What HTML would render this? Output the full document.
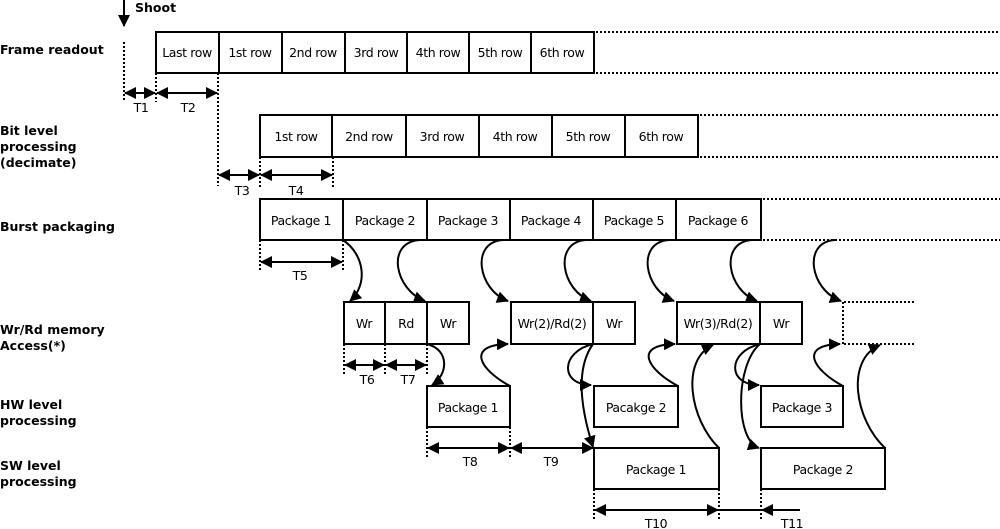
<!DOCTYPE html>
<html><head><meta charset="utf-8"><style>
html,body{margin:0;padding:0;background:#fff;}
svg{display:block;}
.l{font-family:"DejaVu Sans","Liberation Sans",sans-serif;font-weight:bold;font-size:12.5px;}
.t{font-family:"DejaVu Sans","Liberation Sans",sans-serif;font-size:12.5px;letter-spacing:-0.4px;}
.b{fill:#fff;stroke:#000;stroke-width:2;}
.d{stroke:#000;stroke-width:2;stroke-dasharray:2,2;fill:none;}
.a{stroke:#000;stroke-width:2;fill:none;}
</style></head><body>
<svg width="1000" height="529" viewBox="0 0 1000 529" xmlns="http://www.w3.org/2000/svg">
<defs>
<marker id="h" markerWidth="12" markerHeight="12" refX="11" refY="6" orient="auto" markerUnits="userSpaceOnUse"><path d="M0,0 L12,6 L0,12 z" fill="#000"/></marker>
<marker id="s" markerWidth="12" markerHeight="12" refX="1" refY="6" orient="auto" markerUnits="userSpaceOnUse"><path d="M12,0 L0,6 L12,12 z" fill="#000"/></marker>
</defs>
<g class="l">
<text x="0" y="54">Frame readout</text>
<text x="0" y="135">Bit level</text>
<text x="0" y="151">processing</text>
<text x="0" y="167">(decimate)</text>
<text x="0" y="231">Burst packaging</text>
<text x="0" y="334">Wr/Rd memory</text>
<text x="0" y="350">Access(*)</text>
<text x="0" y="409">HW level</text>
<text x="0" y="425">processing</text>
<text x="0" y="470">SW level</text>
<text x="0" y="486">processing</text>
<text x="135" y="12">Shoot</text>
</g>
<line class="a" x1="124" y1="0" x2="124" y2="26" marker-end="url(#h)"/>
<line class="d" x1="124" y1="42" x2="124" y2="102"/>
<g class="t" text-anchor="middle">
<rect class="b" x="156" y="32" width="63" height="41"/><text x="187" y="57">Last row</text>
<rect class="b" x="219" y="32" width="63" height="41"/><text x="250" y="57">1st row</text>
<rect class="b" x="282" y="32" width="63" height="41"/><text x="313" y="57">2nd row</text>
<rect class="b" x="345" y="32" width="62" height="41"/><text x="376" y="57">3rd row</text>
<rect class="b" x="407" y="32" width="62" height="41"/><text x="438" y="57">4th row</text>
<rect class="b" x="469" y="32" width="62" height="41"/><text x="500" y="57">5th row</text>
<rect class="b" x="531" y="32" width="63" height="41"/><text x="562" y="57">6th row</text>
</g>
<line class="d" x1="596" y1="32" x2="1000" y2="32"/><line class="d" x1="596" y1="73" x2="1000" y2="73"/>
<line class="d" x1="156" y1="73" x2="156" y2="102"/>
<line class="d" x1="218" y1="73" x2="218" y2="186"/>
<line class="a" x1="125" y1="93" x2="155" y2="93" marker-start="url(#s)" marker-end="url(#h)"/>
<line class="a" x1="157" y1="93" x2="217" y2="93" marker-start="url(#s)" marker-end="url(#h)"/>
<g class="t" text-anchor="middle"><text x="141" y="112">T1</text><text x="188" y="112">T2</text></g>
<g class="t" text-anchor="middle">
<rect class="b" x="260" y="115" width="72" height="42"/><text x="296" y="141">1st row</text>
<rect class="b" x="332" y="115" width="74" height="42"/><text x="369" y="141">2nd row</text>
<rect class="b" x="406" y="115" width="73" height="42"/><text x="442" y="141">3rd row</text>
<rect class="b" x="479" y="115" width="73" height="42"/><text x="515" y="141">4th row</text>
<rect class="b" x="552" y="115" width="73" height="42"/><text x="588" y="141">5th row</text>
<rect class="b" x="625" y="115" width="73" height="42"/><text x="661" y="141">6th row</text>
</g>
<line class="d" x1="700" y1="115" x2="1000" y2="115"/><line class="d" x1="700" y1="157" x2="1000" y2="157"/>
<line class="d" x1="260" y1="157" x2="260" y2="188"/><line class="d" x1="333" y1="157" x2="333" y2="188"/>
<line class="a" x1="219" y1="175" x2="259" y2="175" marker-start="url(#s)" marker-end="url(#h)"/>
<line class="a" x1="261" y1="175" x2="332" y2="175" marker-start="url(#s)" marker-end="url(#h)"/>
<g class="t" text-anchor="middle"><text x="242" y="195">T3</text><text x="296" y="195">T4</text></g>
<g class="t" text-anchor="middle">
<rect class="b" x="260" y="199" width="83" height="41"/><text x="301" y="225">Package 1</text>
<rect class="b" x="343" y="199" width="84" height="41"/><text x="385" y="225">Package 2</text>
<rect class="b" x="427" y="199" width="83" height="41"/><text x="468" y="225">Package 3</text>
<rect class="b" x="510" y="199" width="83" height="41"/><text x="551" y="225">Package 4</text>
<rect class="b" x="593" y="199" width="83" height="41"/><text x="634" y="225">Package 5</text>
<rect class="b" x="676" y="199" width="85" height="41"/><text x="718" y="225">Package 6</text>
</g>
<line class="d" x1="763" y1="199" x2="1000" y2="199"/><line class="d" x1="763" y1="240" x2="1000" y2="240"/>
<line class="d" x1="260" y1="240" x2="260" y2="272"/><line class="d" x1="343" y1="240" x2="343" y2="272"/>
<line class="a" x1="261" y1="262" x2="342" y2="262" marker-start="url(#s)" marker-end="url(#h)"/>
<text class="t" x="300" y="280" text-anchor="middle">T5</text>
<path class="a" d="M343,240 C365,255 368,285 350,301" marker-end="url(#h)"/>
<path class="a" d="M420,240 C385,242 395,290 425,301" marker-end="url(#h)"/>
<path class="a" d="M503,240 C470,242 478,290 508,301" marker-end="url(#h)"/>
<path class="a" d="M586,240 C553,242 561,290 591,301" marker-end="url(#h)"/>
<path class="a" d="M669,240 C636,242 644,290 674,301" marker-end="url(#h)"/>
<path class="a" d="M752,240 C719,242 727,290 757,301" marker-end="url(#h)"/>
<path class="a" d="M835,240 C802,242 810,290 841,301" marker-end="url(#h)"/>
<g class="t" text-anchor="middle">
<rect class="b" x="344" y="302" width="41" height="42"/><text x="364" y="328">Wr</text>
<rect class="b" x="385" y="302" width="42" height="42"/><text x="406" y="328">Rd</text>
<rect class="b" x="427" y="302" width="42" height="42"/><text x="448" y="328">Wr</text>
<rect class="b" x="511" y="302" width="82" height="42"/><text x="552" y="328">Wr(2)/Rd(2)</text>
<rect class="b" x="593" y="302" width="42" height="42"/><text x="614" y="328">Wr</text>
<rect class="b" x="677" y="302" width="83" height="42"/><text x="718" y="328">Wr(3)/Rd(2)</text>
<rect class="b" x="760" y="302" width="42" height="42"/><text x="781" y="328">Wr</text>
</g>
<line class="d" x1="843" y1="302" x2="843" y2="344"/>
<line class="d" x1="844" y1="302" x2="916" y2="302"/><line class="d" x1="844" y1="344" x2="916" y2="344"/>
<line class="d" x1="344" y1="344" x2="344" y2="376"/><line class="d" x1="385" y1="344" x2="385" y2="376"/><line class="d" x1="427" y1="344" x2="427" y2="376"/>
<line class="a" x1="345" y1="365" x2="384" y2="365" marker-start="url(#s)" marker-end="url(#h)"/>
<line class="a" x1="386" y1="365" x2="426" y2="365" marker-start="url(#s)" marker-end="url(#h)"/>
<g class="t" text-anchor="middle"><text x="367" y="384">T6</text><text x="408" y="384">T7</text></g>
<g class="t" text-anchor="middle">
<rect class="b" x="427" y="386" width="83" height="41"/><text x="468" y="412">Package 1</text>
<rect class="b" x="594" y="386" width="84" height="41"/><text x="636" y="412">Pacakge 2</text>
<rect class="b" x="761" y="386" width="82" height="41"/><text x="802" y="412">Package 3</text>
</g>
<path class="a" d="M427,344 C450,350 448,375 432,385" marker-end="url(#h)"/>
<path class="a" d="M510,386 C480,370 465,345 508,344" marker-end="url(#h)"/>
<path class="a" d="M593,344 C560,352 560,385 591,385" marker-end="url(#h)"/>
<path class="a" d="M593,344 C578,365 578,400 593,447" marker-end="url(#h)"/>
<path class="a" d="M678,386 C648,370 632,345 675,344" marker-end="url(#h)"/>
<path class="a" d="M719,448 C690,420 680,360 713,345" marker-end="url(#h)"/>
<path class="a" d="M760,344 C727,352 727,385 759,385" marker-end="url(#h)"/>
<path class="a" d="M760,344 C735,365 735,440 759,448" marker-end="url(#h)"/>
<path class="a" d="M843,386 C813,370 798,345 840,344" marker-end="url(#h)"/>
<path class="a" d="M885,448 C855,420 845,360 880,345" marker-end="url(#h)"/>
<g class="t" text-anchor="middle">
<rect class="b" x="594" y="448" width="125" height="41"/><text x="656" y="474">Package 1</text>
<rect class="b" x="761" y="448" width="124" height="41"/><text x="823" y="474">Package 2</text>
</g>
<line class="d" x1="427" y1="427" x2="427" y2="458"/><line class="d" x1="510" y1="427" x2="510" y2="458"/>
<line class="a" x1="428" y1="448" x2="509" y2="448" marker-start="url(#s)" marker-end="url(#h)"/>
<line class="a" x1="511" y1="448" x2="593" y2="448" marker-start="url(#s)" marker-end="url(#h)"/>
<g class="t" text-anchor="middle"><text x="470" y="466">T8</text><text x="551" y="466">T9</text></g>
<line class="d" x1="594" y1="489" x2="594" y2="520"/><line class="d" x1="719" y1="489" x2="719" y2="520"/><line class="d" x1="761" y1="489" x2="761" y2="520"/>
<line class="a" x1="595" y1="510" x2="718" y2="510" marker-start="url(#s)" marker-end="url(#h)"/>
<line class="a" x1="720" y1="510" x2="760" y2="510"/>
<line class="a" x1="800" y1="510" x2="762" y2="510" marker-end="url(#h)"/>
<g class="t" text-anchor="middle"><text x="656" y="528">T10</text><text x="792" y="528">T11</text></g>
</svg>
</body></html>
